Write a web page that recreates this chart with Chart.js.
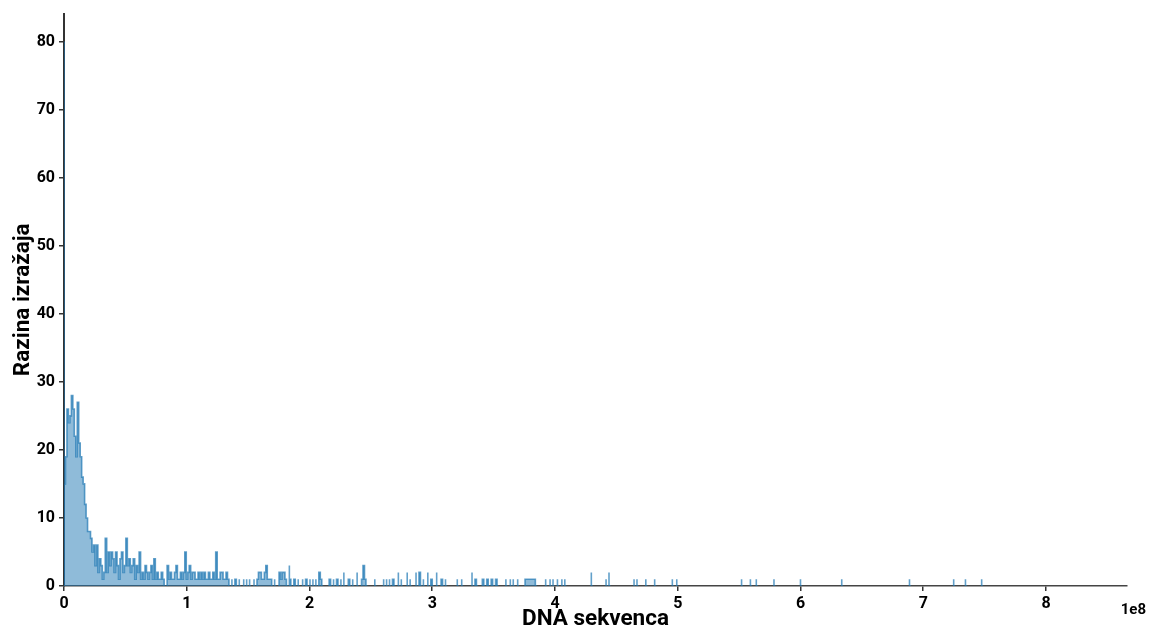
<!DOCTYPE html>
<html>
<head>
<meta charset="utf-8">
<script src="https://cdn.jsdelivr.net/npm/chart.js@4.4.0/dist/chart.umd.min.js"></script>
<style>
html, body { margin: 0; padding: 0; background: #fff; }
#wrap { width: 1152px; height: 633px; position: relative; }
</style>
</head>
<body>
<div id="wrap"><canvas id="histChart"></canvas></div>
<script>
// histogram bins, width in base pairs
const binWidth = 1.2e6;

// counts for the first 160 bins (0 .. ~1.9e8)
const denseCounts = [
    80, 15, 19, 26, 24, 25, 28, 26, 22, 19,
    27, 21, 19, 16, 15, 12, 10, 8, 8, 7,
    5, 6, 3, 6, 2, 4, 3, 1, 2, 7,
    2, 5, 3, 5, 4, 2, 5, 3, 1, 4,
    5, 2, 3, 7, 3, 4, 2, 3, 4, 1,
    3, 2, 5, 1, 2, 1, 3, 2, 1, 2,
    3, 1, 4, 1, 2, 1, 1, 2, 1, 0,
    1, 3, 1, 2, 1, 1, 2, 3, 1, 1,
    2, 1, 2, 5, 1, 2, 3, 1, 2, 2,
    1, 1, 2, 1, 2, 1, 2, 1, 1, 2,
    1, 1, 2, 1, 5, 1, 1, 2, 2, 1,
    1, 2, 1, 0, 1, 0, 1, 1, 0, 1,
    0, 0, 1, 0, 1, 0, 1, 0, 0, 1,
    0, 1, 1, 2, 2, 1, 1, 2, 3, 1,
    1, 1, 0, 1, 0, 0, 1, 2, 1, 2,
    2, 1, 0, 3, 1, 0, 1, 1, 0, 1
];

// the long tail: bin index and count of the non-empty bins
const sparseBins = [
    162, 164, 165, 167, 169, 171, 173, 174, 175, 180,
    181, 183, 185, 186, 188, 190, 193, 194, 196, 199,
    202, 203, 204, 205, 211, 217, 219, 221, 223, 224,
    227, 229, 233, 235, 239, 241, 242, 244, 247, 249,
    250, 253, 256, 257, 259, 267, 270, 277, 279, 280,
    284, 285, 287, 288, 290, 291, 293, 294, 300, 303,
    305, 308, 313, 314, 315, 316, 317, 318, 319, 320,
    327, 330, 332, 335, 338, 340, 358, 368, 370, 387,
    389, 395, 401, 413, 416, 460, 466, 470, 482, 500,
    528, 574, 604, 612, 623
];
const sparseCounts = [
    1, 1, 1, 1, 1, 1, 1, 2, 1, 1,
    1, 1, 1, 1, 1, 2, 1, 1, 1, 2,
    1, 1, 3, 1, 1, 1, 1, 1, 1, 1,
    2, 1, 2, 1, 2, 1, 2, 1, 2, 1,
    1, 2, 1, 1, 1, 1, 1, 2, 1, 1,
    1, 1, 1, 1, 1, 1, 1, 1, 1, 1,
    1, 1, 1, 1, 1, 1, 1, 1, 1, 1,
    1, 1, 1, 1, 1, 1, 2, 1, 2, 1,
    1, 1, 1, 1, 1, 1, 1, 1, 1, 1,
    1, 1, 1, 1, 1
];

const xTickValues = [0, 1, 2, 3, 4, 5, 6, 7, 8];
const xTitle = 'DNA sekvenca';
const yTitle = 'Razina izražaja';
const xMax = 8.66e8;
const yMax = 84.1;

// all bins as one count list, empty bins = 0
const counts = denseCounts.slice();
sparseBins.forEach(function(b, i) {
    while (counts.length <= b) counts.push(0);
    counts[b] = sparseCounts[i];
});

// step outline: each run of non-empty bins becomes one closed shape,
// runs are split by null so nothing is drawn along the baseline
const points = [];
let inRun = false;
counts.forEach(function(c, i) {
    const left = i * binWidth;
    if (c > 0) {
        if (!inRun) points.push({ x: left, y: 0 });
        points.push({ x: left, y: c });
        inRun = true;
    } else if (inRun) {
        points.push({ x: left, y: 0 });
        points.push({ x: left, y: null });
        inRun = false;
    }
});
if (inRun) points.push({ x: counts.length * binWidth, y: 0 });

const tickFont = { family: 'Roboto', weight: 'bold', size: 16 };
const titleFont = { family: 'Roboto', weight: 'bold', size: 22.5 };

// draws the "1e8" multiplier under the right end of the x axis
const offsetLabel = {
    id: 'offsetLabel',
    afterDraw: function(chart) {
        const ctx = chart.ctx;
        ctx.save();
        ctx.font = 'bold 15px Roboto';
        ctx.fillStyle = '#000';
        ctx.textAlign = 'right';
        ctx.textBaseline = 'middle';
        ctx.fillText('1e8', 1146, 610);
        ctx.restore();
    }
};

new Chart(document.getElementById('histChart').getContext('2d'), {
    type: 'line',
    data: {
        datasets: [{
            data: points,
            stepped: 'after',
            spanGaps: false,
            fill: 'origin',
            backgroundColor: 'rgba(31, 119, 180, 0.5)',
            borderColor: 'rgba(31, 119, 180, 0.7)',
            borderWidth: 1.6,
            pointRadius: 0
        }]
    },
    options: {
        responsive: true,
        maintainAspectRatio: false,
        animation: false,
        layout: { padding: { top: 13, right: 25, left: 0, bottom: 0 } },
        plugins: {
            legend: { display: false },
            tooltip: { enabled: false }
        },
        scales: {
            x: {
                type: 'linear',
                min: 0,
                max: xMax,
                afterFit: function(s) { s.height = 47; },
                afterBuildTicks: function(s) {
                    s.ticks = xTickValues.map(function(v) { return { value: v * 1e8 }; });
                },
                grid: { drawOnChartArea: false, drawTicks: true, tickLength: 5, color: '#333', lineWidth: 1.5 },
                border: { color: '#444', width: 1.5 },
                ticks: {
                    autoSkip: false,
                    maxRotation: 0,
                    padding: 3,
                    color: '#000',
                    font: tickFont,
                    callback: function(v) { return Math.round(v / 1e8); }
                },
                title: { display: true, text: xTitle, color: '#000', font: titleFont, padding: 0 }
            },
            y: {
                min: 0,
                max: yMax,
                afterFit: function(s) { s.width = 64; },
                grid: { drawOnChartArea: false, drawTicks: true, tickLength: 5, color: '#333', lineWidth: 1.5 },
                border: { color: '#333', width: 2 },
                ticks: {
                    stepSize: 10,
                    includeBounds: false,
                    padding: 4,
                    color: '#000',
                    font: tickFont
                },
                title: { display: true, text: yTitle, color: '#000', font: titleFont, padding: { top: 10, bottom: 0 } }
            }
        }
    },
    plugins: [offsetLabel]
});
</script>
</body>
</html>
